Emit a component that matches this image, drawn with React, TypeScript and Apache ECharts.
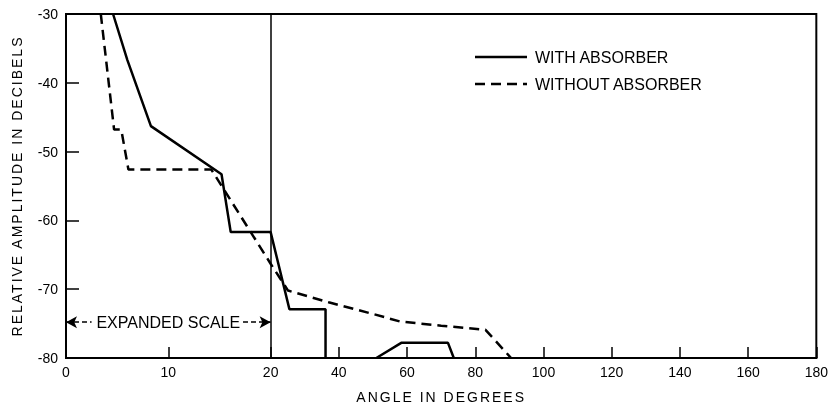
import React, { useEffect, useRef } from "react";
import * as echarts from "echarts";

// Tick positions (degrees) and values
const xTickDegrees = [0, 10, 20, 40, 60, 80, 100, 120, 140, 160, 180];
const yMin = -80;
const yMax = -30;
const yInterval = 10;

const seriesNames = ["WITH ABSORBER", "WITHOUT ABSORBER"];

// WITH ABSORBER (solid)
const withDeg = [4.6, 6.0, 8.3, 15.2, 16.1, 20.0, 25.5, 36.1, 36.1, null, 51.0, 58.3, 72.0, 73.7];
const withDb = [-30, -36.7, -46.3, -53.3, -61.7, -61.7, -72.9, -72.9, -80, null, -80, -77.8, -77.8, -80];

// WITHOUT ABSORBER (dashed)
const withoutDeg = [3.4, 4.7, 5.4, 6.1, 14.2, 20.0, 25.1, 37.0, 50.0, 58.0, 70.0, 83.0, 90.5];
const withoutDb = [-30, -46.8, -46.8, -52.6, -52.6, -66.3, -70.2, -71.9, -73.6, -74.7, -75.3, -75.9, -80];

// Expanded-scale annotation
const expandedLabel = "EXPANDED SCALE";
const expandedLevel = -74.8;
const expandedBreakDeg = 20;
const expandedArrowDeg = [0, 2.5, 17.3, 20];
const expandedLabelDeg = 10;

const xName = "ANGLE IN DEGREES";
const yName = "RELATIVE AMPLITUDE IN DECIBELS";

const FONT = "'Liberation Sans', Arial, Helvetica, sans-serif";
const DASH = [10, 6];

// Piecewise axis: 0-20 deg expanded 3x, 20-180 deg linear
const toU = (d: number) => (d <= expandedBreakDeg ? d * 3 : d + 40);
const fromU = (u: number) => (u <= expandedBreakDeg * 3 ? u / 3 : u - 40);

const pairs = (xs: (number | null)[], ys: (number | null)[]) =>
  xs.map((x, i) => (x == null || ys[i] == null ? ["-", "-"] : [toU(x), ys[i]]));

export default function App() {
  const ref = useRef<HTMLDivElement>(null);

  useEffect(() => {
    if (!ref.current) return;
    const chart = echarts.init(ref.current, null, { renderer: "svg" });
    const tickU = xTickDegrees.map(toU);
    const arrowLine = { color: "#000", width: 1.5, type: [5, 3] as any };

    chart.setOption({
      animation: false,
      grid: { left: 66, right: 14, top: 14, bottom: 50, show: true, borderColor: "#000", borderWidth: 2 },
      xAxis: {
        type: "value",
        min: toU(0),
        max: toU(180),
        name: xName,
        nameLocation: "middle",
        nameGap: 32,
        nameTextStyle: { fontSize: 14, color: "#000", fontFamily: FONT },
        axisLine: { show: true, lineStyle: { color: "#000", width: 2 } },
        axisTick: { show: true, inside: true, length: 11, customValues: tickU, lineStyle: { color: "#000", width: 1.5 } },
        axisLabel: {
          customValues: tickU,
          formatter: (v: number) => String(Math.round(fromU(v))),
          color: "#000",
          fontSize: 14,
          fontFamily: FONT,
          margin: 7,
        },
        splitLine: { show: false },
      },
      yAxis: {
        type: "value",
        min: yMin,
        max: yMax,
        interval: yInterval,
        name: yName,
        nameLocation: "middle",
        nameRotate: 90,
        nameGap: 42,
        nameTextStyle: { fontSize: 14, color: "#000", fontFamily: FONT },
        axisLine: { show: true, lineStyle: { color: "#000", width: 2 } },
        axisTick: { show: true, inside: true, length: 13, lineStyle: { color: "#000", width: 1.5 } },
        axisLabel: { color: "#000", fontSize: 14, fontFamily: FONT, margin: 8 },
        splitLine: { show: false },
      },
      series: [
        {
          name: seriesNames[0],
          type: "line",
          data: pairs(withDeg, withDb),
          symbol: "none",
          showSymbol: false,
          connectNulls: false,
          lineStyle: { color: "#000", width: 2.5, type: "solid" },
          itemStyle: { color: "#000" },
          markLine: {
            silent: true,
            animation: false,
            label: { show: false },
            data: [
              [
                { coord: [toU(expandedArrowDeg[0]), expandedLevel], symbol: "arrow", symbolSize: [9, 11], lineStyle: arrowLine },
                { coord: [toU(expandedArrowDeg[1]), expandedLevel], symbol: "none" },
              ],
              [
                { coord: [toU(expandedArrowDeg[2]), expandedLevel], symbol: "none", lineStyle: arrowLine },
                { coord: [toU(expandedArrowDeg[3]), expandedLevel], symbol: "arrow", symbolSize: [9, 11] },
              ],
              [
                { coord: [toU(expandedBreakDeg), yMin], symbol: "none", lineStyle: { color: "#000", width: 1.5, type: "solid" } },
                { coord: [toU(expandedBreakDeg), yMax], symbol: "none" },
              ],
            ],
          },
        },
        {
          name: seriesNames[1],
          type: "line",
          data: pairs(withoutDeg, withoutDb),
          symbol: "none",
          showSymbol: false,
          lineStyle: { color: "#000", width: 2.5, type: DASH },
          itemStyle: { color: "#000" },
        },
      ],
    });

    const p = chart.convertToPixel({ gridIndex: 0 }, [toU(expandedLabelDeg), expandedLevel]) as number[];
    const legendX = 475;
    const legendY = [57, 84];
    const legendItem = (i: number, dash: number[] | null) => ({
      type: "group",
      children: [
        {
          type: "line",
          shape: { x1: legendX, y1: legendY[i], x2: legendX + 52, y2: legendY[i] },
          style: { stroke: "#000", lineWidth: 2.5, lineDash: dash || undefined },
        },
        {
          type: "text",
          x: legendX + 60,
          y: legendY[i],
          style: { text: seriesNames[i], fontSize: 16, fontFamily: FONT, fill: "#000", verticalAlign: "middle" },
        },
      ],
    });
    chart.setOption({
      graphic: [
        {
          type: "text",
          x: p[0],
          y: p[1],
          style: {
            text: expandedLabel,
            fontSize: 16,
            fontFamily: FONT,
            fill: "#000",
            align: "center",
            verticalAlign: "middle",
          },
        },
        legendItem(0, null),
        legendItem(1, DASH),
      ],
    });

    // widen lettering of the axis titles like the original typesetting
    const svg = ref.current.querySelector("svg");
    if (svg) {
      svg.querySelectorAll("text").forEach((t) => {
        const s = t.textContent || "";
        if (s === xName || s === yName) (t as any).style.letterSpacing = "2px";
      });
    }

    return () => chart.dispose();
  }, []);

  return <div ref={ref} style={{ position: "fixed", left: 0, top: 0, width: 831, height: 409 }} />;
}
